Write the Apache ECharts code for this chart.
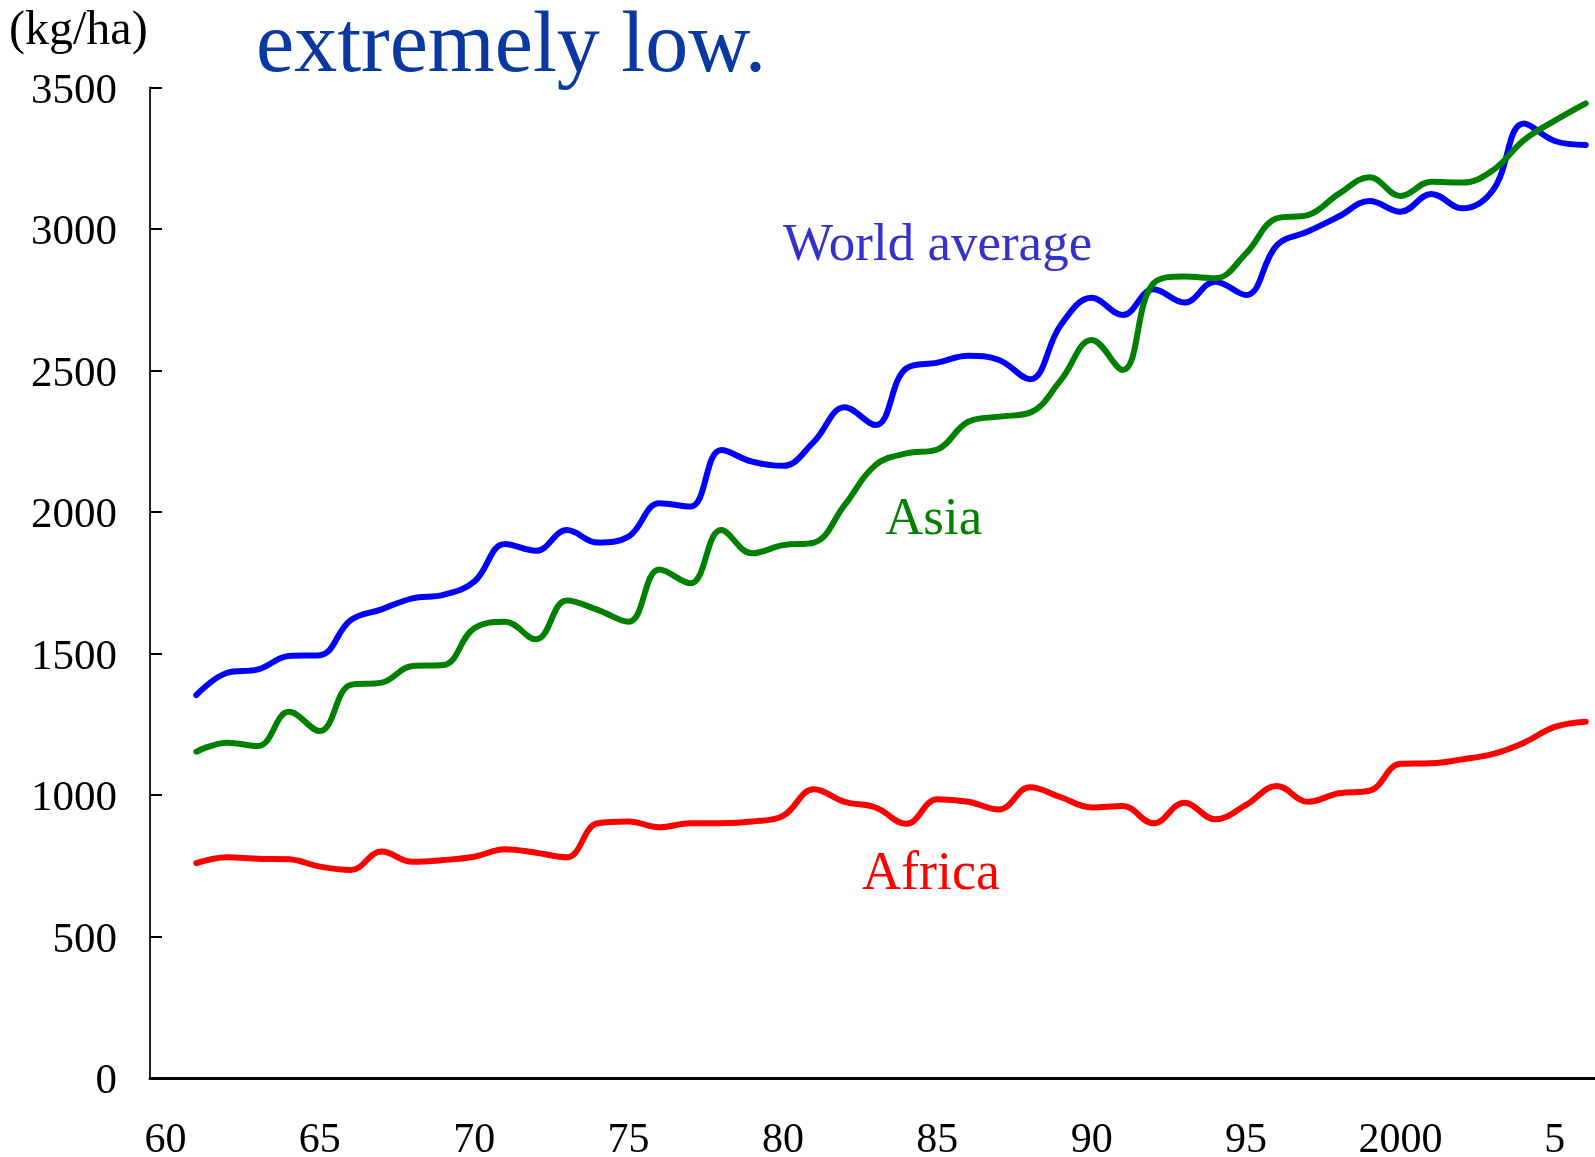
<!DOCTYPE html>
<html>
<head>
<meta charset="utf-8">
<script src="https://cdn.jsdelivr.net/npm/echarts@6/dist/echarts.min.js"></script>
<style>
  html, body { margin: 0; padding: 0; background: #fff; }
  #chart { width: 1595px; height: 1157px; }
</style>
</head>
<body>
<div id="chart"></div>
<script>
// years 1961 - 2006
const years = [];
for (let y = 1961; y <= 2006; y++) years.push(y);

// yield (kg/ha)
const world = [1353, 1432, 1444, 1491, 1494, 1618, 1656, 1695, 1707, 1754, 1887, 1863, 1936,
  1892, 1913, 2031, 2019, 2219, 2178, 2163, 2248, 2370, 2307, 2508, 2528, 2552,
  2537, 2469, 2661, 2757, 2696, 2787, 2740, 2814, 2767, 2943, 2991, 3044, 3099,
  3061, 3124, 3073, 3138, 3373, 3311, 3297];
const asia = [1153, 1185, 1173, 1294, 1226, 1389, 1397, 1456, 1459, 1589, 1612, 1550, 1687,
  1654, 1612, 1797, 1748, 1936, 1854, 1883, 1892, 2025, 2166, 2207, 2221, 2319,
  2337, 2351, 2466, 2608, 2502, 2808, 2832, 2826, 2914, 3038, 3049, 3124, 3183,
  3117, 3167, 3164, 3208, 3314, 3383, 3444];
const africa = [759, 780, 775, 773, 747, 735, 800, 764, 770, 782, 808, 796, 780,
  900, 906, 886, 900, 900, 906, 926, 1020, 976, 956, 898, 985, 976,
  949, 1027, 992, 956, 961, 900, 973, 914, 965, 1032, 976, 1006, 1015,
  1110, 1112, 1126, 1145, 1185, 1241, 1259];

const xTicks = [1960, 1965, 1970, 1975, 1980, 1985, 1990, 1995, 2000, 2005];
const yTicks = [0, 500, 1000, 1500, 2000, 2500, 3000, 3500];

const serif = '"Liberation Serif", "Times New Roman", serif';

const pairs = arr => arr.map((v, i) => [years[i], v]);

const lineSeries = (name, arr, color) => ({
  name: name,
  type: 'line',
  data: pairs(arr),
  showSymbol: false,
  smooth: 0.4,
  lineStyle: { color: color, width: 6, cap: 'round', join: 'round' },
  itemStyle: { color: color },
  z: 3
});

const chart = echarts.init(document.getElementById('chart'));

chart.setOption({
  animation: false,
  backgroundColor: '#fff',
  grid: {
    left: 150,
    right: 0,
    top: 87.5,
    bottom: 79,
    containLabel: false,
    outerBoundsMode: 'none'
  },
  xAxis: {
    type: 'value',
    min: 1959.5,
    max: 2006.3,
    splitLine: { show: false },
    axisTick: { show: false },
    axisLine: { lineStyle: { color: '#000', width: 3 } },
    axisLabel: {
      customValues: xTicks,
      margin: 42,
      fontFamily: serif,
      fontSize: 42,
      color: '#000',
      formatter: v => v === 2000 ? '2000' : (v > 2000 ? String(v - 2000) : String(v - 1900))
    }
  },
  yAxis: {
    type: 'value',
    min: 0,
    max: 3500,
    interval: 500,
    splitLine: { show: false },
    axisLine: { show: true, lineStyle: { color: '#222', width: 2 } },
    axisTick: { show: true, inside: true, length: 12, lineStyle: { color: '#000', width: 2 } },
    axisLabel: {
      margin: 33,
      verticalAlign: 'top',
      lineHeight: 8,
      fontFamily: serif,
      fontSize: 43,
      color: '#000',
      formatter: v => yTicks.includes(v) ? String(v) : ''
    }
  },
  series: [
    lineSeries('World average', world, '#0000ff'),
    lineSeries('Asia', asia, '#008000'),
    lineSeries('Africa', africa, '#ff0000')
  ],
  graphic: [
    { type: 'text', left: 9, top: 7,
      style: { text: '(kg/ha)', font: '48px ' + serif, fill: '#000' } },
    { type: 'text', x: 256, y: 48,
      style: { text: 'extremely low.', font: '86px ' + serif, fill: '#0838a0', verticalAlign: 'middle' } },
    { type: 'text', x: 783, y: 246,
      style: { text: 'World average', font: '53px ' + serif, fill: '#3333cc', verticalAlign: 'middle' } },
    { type: 'text', x: 885, y: 520,
      style: { text: 'Asia', font: '53px ' + serif, fill: '#008000', verticalAlign: 'middle' } },
    { type: 'text', x: 862, y: 875,
      style: { text: 'Africa', font: '54px ' + serif, fill: '#ff0000', verticalAlign: 'middle' } }
  ]
});
</script>
</body>
</html>
